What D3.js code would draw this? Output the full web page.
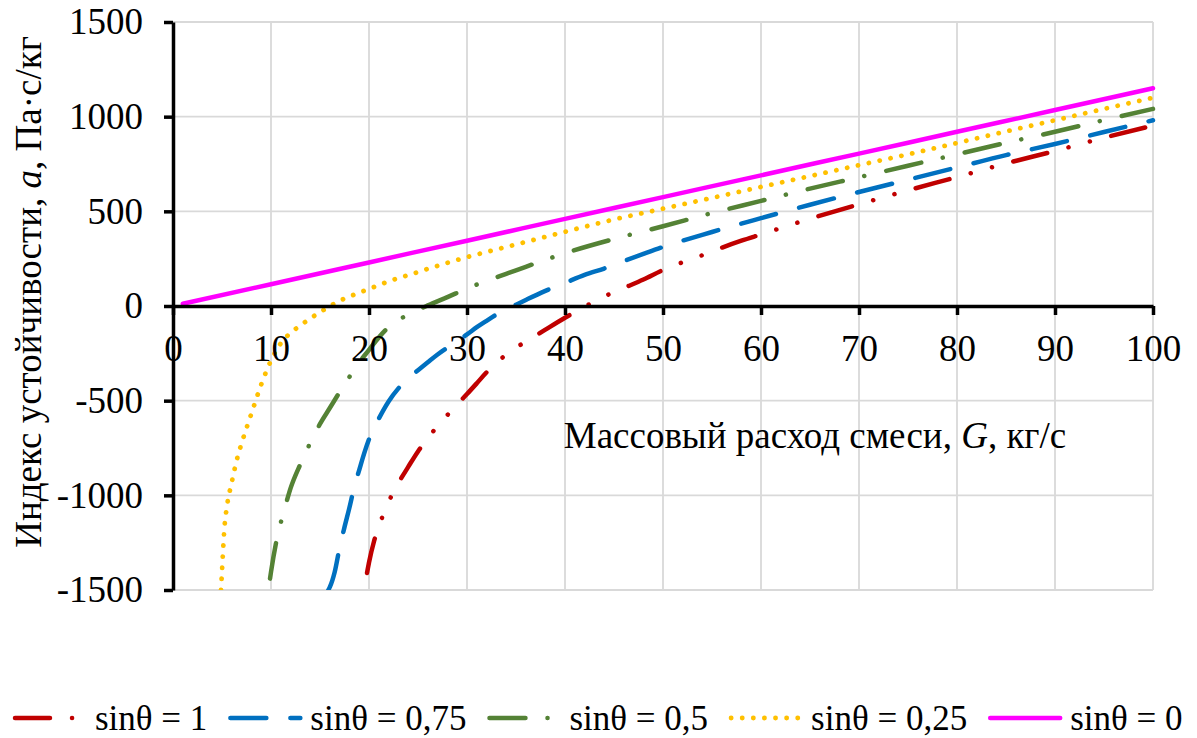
<!DOCTYPE html>
<html>
<head>
<meta charset="utf-8">
<script src="https://cdn.jsdelivr.net/npm/d3@7"></script>
<style>
  body { margin: 0; background: #fff; }
</style>
</head>
<body>
<script>
// values: [G, a]
const seriesNames = ["sinθ = 1", "sinθ = 0,75", "sinθ = 0,5", "sinθ = 0,25", "sinθ = 0"];

const sin100 = [[19.8,-1410],[20,-1355],[20.5,-1245],[21,-1165],[22,-1035],[23,-935],[24,-850],
  [25,-768],[26,-700],[27,-633],[28,-576],[29,-520],[30,-465],[31,-408],[32,-350],[33,-300],
  [34,-257],[35,-220],[36,-188],[37,-157],[38,-125],[40,-62],[42,-4],[44,50],[46,95],[48,140],
  [50,190],[52,231],[54,268],[56,308],[58,345],[60,378],[65,461],[70,537],[75,611],[80,681],
  [85,753],[90,819],[95,889],[100,953]];

const sin075 = [[15.85,-1500],[16,-1485],[16.5,-1405],[17,-1277],[17.5,-1168],[18,-1066],[18.5,-955],
  [19,-867],[19.5,-780],[20,-704],[21,-595],[22,-504],[23,-435],[24,-382],[25,-339],[26,-297],
  [27,-256],[28,-220],[29,-185],[30,-150],[31,-112],[32,-78],[33,-45],[34,-18],[35,7],[36,32],
  [38,80],[40,122],[42,164],[44,198],[46,237],[48,275],[50,312],[55,391],[60,464],[65,535],
  [70,602],[75,667],[80,732],[85,797],[90,856],[95,919],[100,981]];

const sin050 = [[9.9,-1440],[10,-1405],[10.5,-1255],[11,-1144],[11.5,-1050],[12,-962],[13,-835],
  [14,-724],[15,-623],[16,-539],[17,-455],[18,-375],[19,-298],[20,-232],[21,-166],[22,-112],
  [23,-75],[24,-45],[25,-20],[26,3],[28,47],[30,92],[32,133],[34,170],[36,207],[38,244],
  [40,279],[45,354],[50,421],[55,491],[60,555],[65,620],[70,680],[75,741],[80,801],[85,862],
  [90,920],[95,982],[100,1041]];

const sin025 = [[4.9,-1500],[5,-1400],[5.25,-1170],[5.5,-1060],[6,-930],[6.5,-815],[7,-725],
  [7.5,-645],[8,-568],[9,-415],[10,-288],[11,-197],[12,-142],[13,-103],[14,-66],[15,-33],
  [16,-1],[17,27],[18,50],[19,70],[20,90],[22,130],[24,163],[26,196],[28,228],[30,258],
  [35,325],[40,392],[45,457],[50,514],[55,571],[60,629],[65,686],[70,744],[75,801],[80,861],
  [85,922],[90,981],[95,1041],[100,1100]];

const sin000 = [[1,12],[10,115],[20,230],[30,345],[40,460],[50,575],[60,690],[70,805],
  [80,920],[90,1035],[100,1150]];

const xTicks = [0, 10, 20, 30, 40, 50, 60, 70, 80, 90, 100];
const yTicks = [-1500, -1000, -500, 0, 500, 1000, 1500];

const allSeries = [sin100, sin075, sin050, sin025, sin000];

// look of each series
const styles = [
  { color: "#C00000", dash: "35,22,0.1,22,0.1,22", width: 4.5 },
  { color: "#0070C0", dash: "36,24", width: 4.5 },
  { color: "#548235", dash: "36,22,0.1,22.5", width: 4.5 },
  { color: "#FFC000", dash: "0.1,11", width: 4.8 },
  { color: "#FF00FF", dash: null, width: 4.5 }
];

const width = 1197, height = 738;
const fontSize = 37;
const legendFont = 35;
const serif = '"Liberation Serif", "Times New Roman", serif';

const svg = d3.select("body").append("svg")
  .attr("width", width)
  .attr("height", height)
  .attr("font-family", serif);

const x = d3.scaleLinear().domain([0, 100]).range([173, 1153]);
const y = d3.scaleLinear().domain([-1500, 1500]).range([590, 22]);

// gridlines
const grid = svg.append("g").attr("stroke", "#d9d9d9").attr("stroke-width", 1.8);
grid.selectAll("line.v").data(xTicks.filter(d => d > 0)).enter().append("line")
  .attr("x1", d => x(d)).attr("x2", d => x(d))
  .attr("y1", y(1500)).attr("y2", y(-1500));
grid.selectAll("line.h").data(yTicks).enter().append("line")
  .attr("x1", x(0)).attr("x2", x(100))
  .attr("y1", d => y(d)).attr("y2", d => y(d));

// curves, clipped to the plot area
svg.append("clipPath").attr("id", "plot")
  .append("rect")
  .attr("x", x(0)).attr("y", y(1500))
  .attr("width", x(100) - x(0) + 4).attr("height", y(-1500) - y(1500));

const line = d3.line()
  .x(d => x(d[0]))
  .y(d => y(d[1]))
  .curve(d3.curveMonotoneX);

svg.append("g").attr("clip-path", "url(#plot)")
  .selectAll("path")
  .data(allSeries)
  .enter().append("path")
  .attr("d", line)
  .attr("fill", "none")
  .attr("stroke", (d, i) => styles[i].color)
  .attr("stroke-width", (d, i) => styles[i].width)
  .attr("stroke-linecap", "round")
  .attr("stroke-dasharray", (d, i) => styles[i].dash);

// axes
const yAxis = svg.append("g")
  .attr("transform", `translate(${x(0)},0)`)
  .call(d3.axisLeft(y).tickValues(yTicks).tickSize(9).tickSizeOuter(0).tickPadding(21)
    .tickFormat(d => String(d)));

const xAxis = svg.append("g")
  .attr("transform", `translate(0,${y(0)})`)
  .call(d3.axisBottom(x).tickValues(xTicks).tickSize(9).tickSizeOuter(0).tickPadding(20)
    .tickFormat(d => String(d)));

[xAxis, yAxis].forEach(ax => {
  ax.attr("font-family", serif).attr("font-size", fontSize);
  ax.select(".domain").attr("stroke", "#000").attr("stroke-width", 3.5);
  ax.selectAll(".tick line").attr("stroke", "#000").attr("stroke-width", 3.5);
  ax.selectAll(".tick text")
    .attr("fill", "#000")
    .attr("font-family", serif)
    .attr("font-size", fontSize);
});

// axis titles
const xTitle = svg.append("text")
  .attr("x", 815).attr("y", 448)
  .attr("text-anchor", "middle")
  .attr("font-family", serif)
  .attr("font-size", fontSize);
xTitle.append("tspan").text("Массовый расход смеси, ");
xTitle.append("tspan").attr("font-style", "italic").text("G");
xTitle.append("tspan").text(", кг/с");

const yTitle = svg.append("text")
  .attr("transform", "translate(41,292) rotate(-90)")
  .attr("text-anchor", "middle")
  .attr("font-family", serif)
  .attr("font-size", fontSize);
yTitle.append("tspan").text("Индекс устойчивости, ");
yTitle.append("tspan").attr("font-style", "italic").text("a");
yTitle.append("tspan").text(", Па·с/кг");

// legend
const legend = svg.append("g");
let lx = 15;
const legendY = 718;
seriesNames.forEach((name, i) => {
  const st = styles[i];
  legend.append("line")
    .attr("x1", lx).attr("x2", lx + 70)
    .attr("y1", legendY).attr("y2", legendY)
    .attr("stroke", st.color)
    .attr("stroke-width", st.width)
    .attr("stroke-linecap", "round")
    .attr("stroke-dasharray", st.dash);
  const t = legend.append("text")
    .attr("x", lx + 80).attr("y", legendY + 12)
    .attr("font-family", serif)
    .attr("font-size", legendFont)
    .text(name);
  lx += 80 + t.node().getComputedTextLength() + 23;
});
</script>
</body>
</html>
